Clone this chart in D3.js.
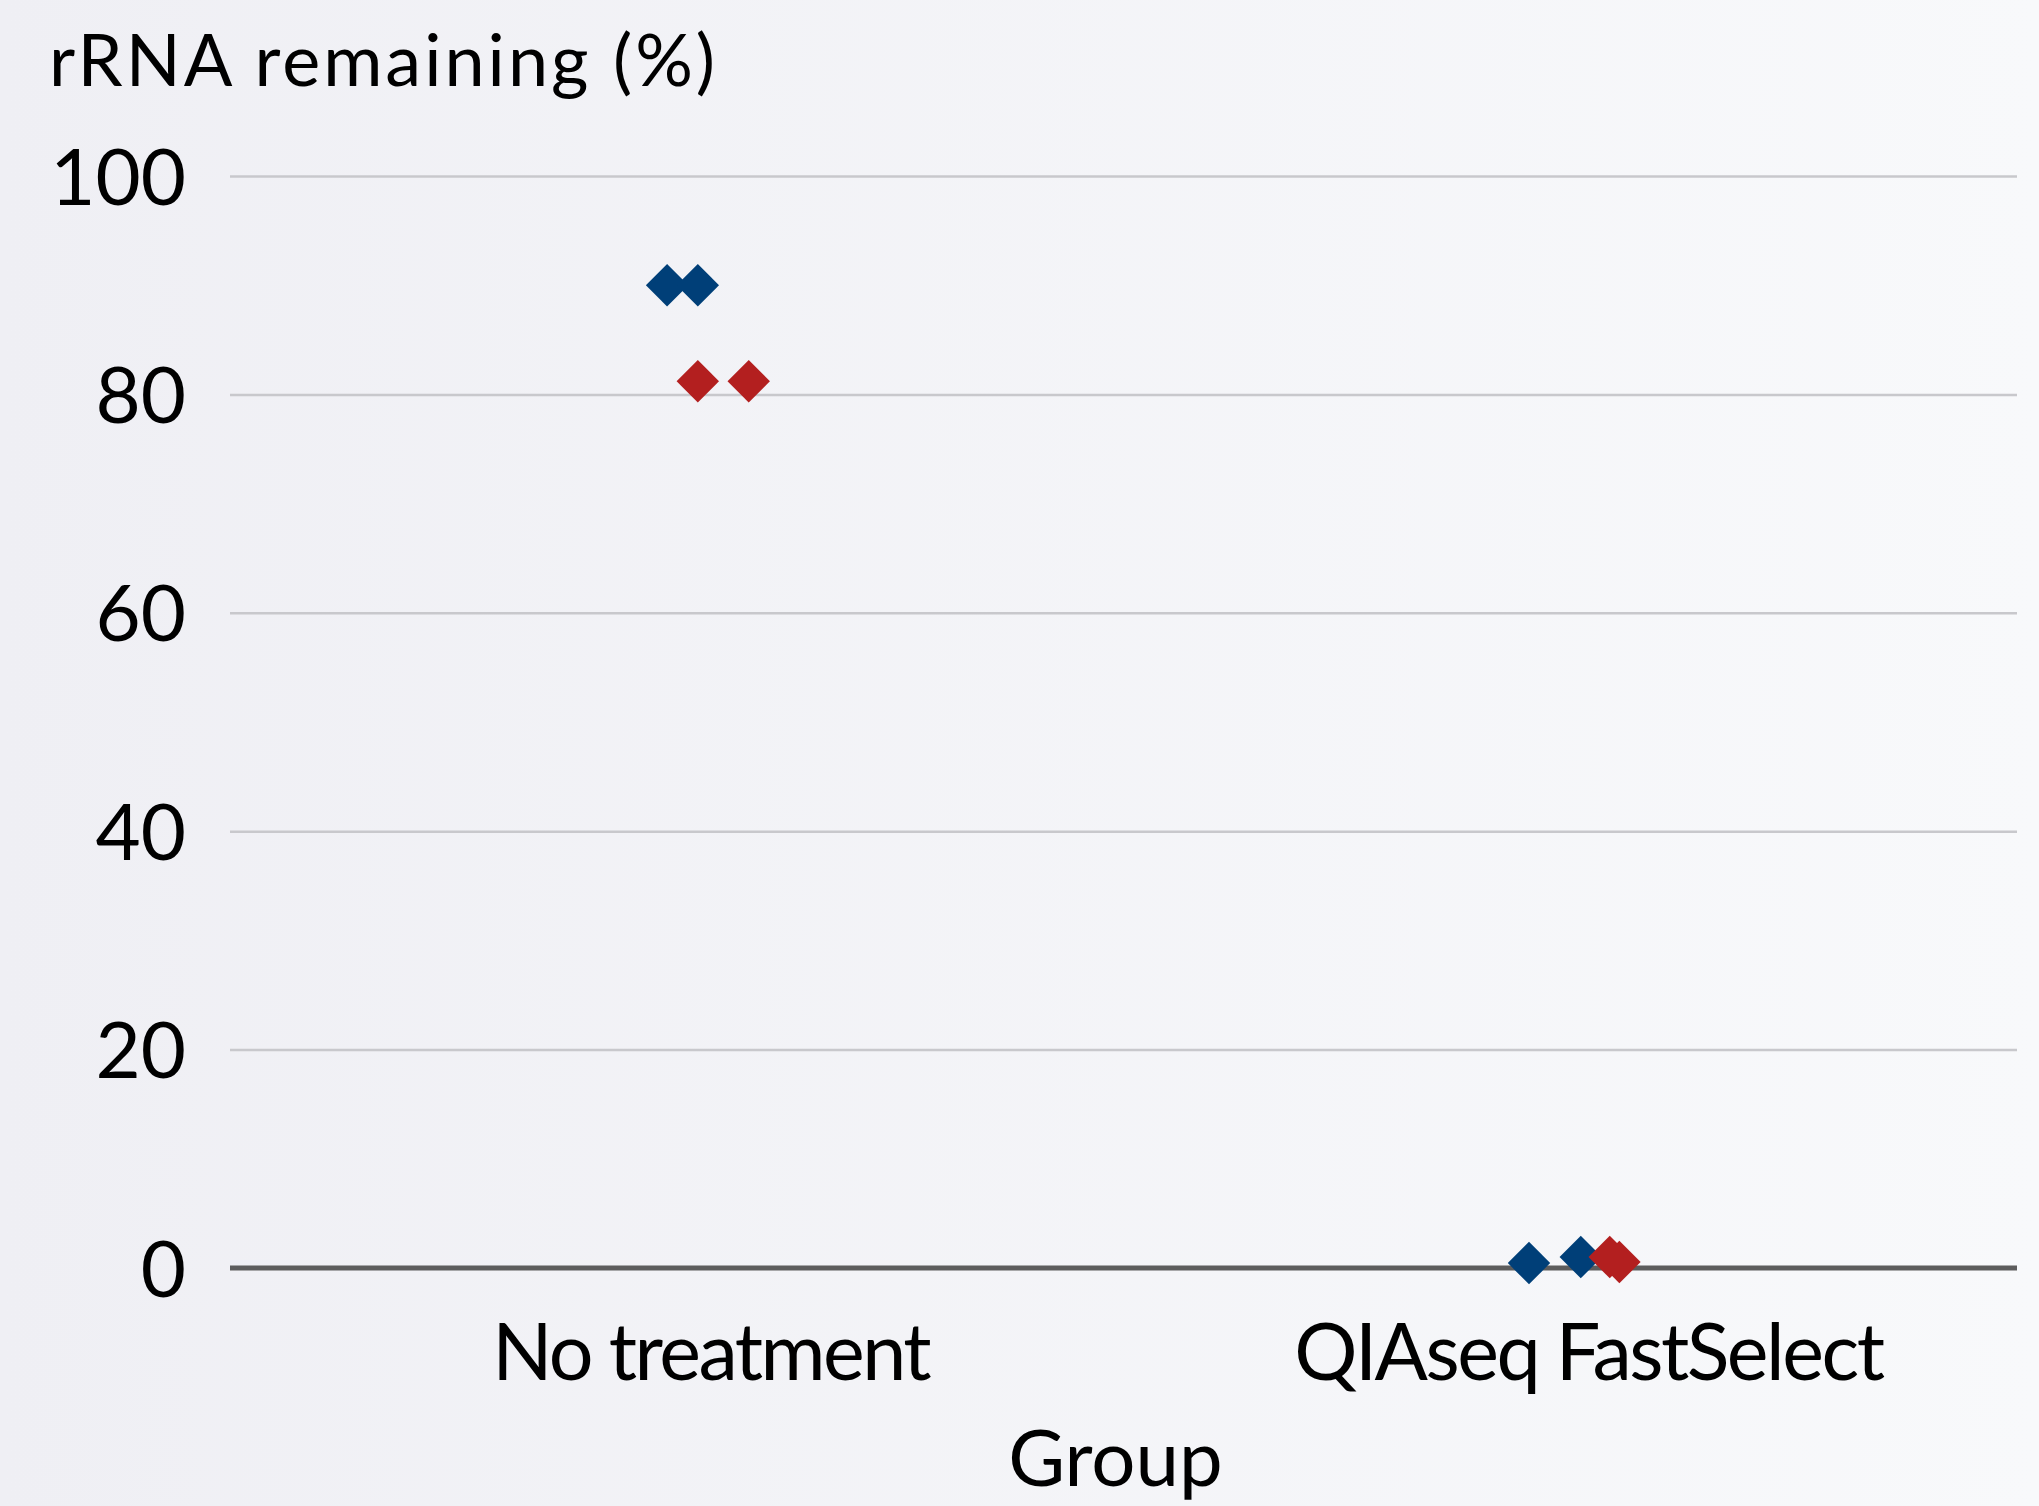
<!DOCTYPE html>
<html>
<head>
<meta charset="utf-8">
<script src="https://cdn.jsdelivr.net/npm/d3@7"></script>
<style>
  html, body { margin: 0; padding: 0; }
  body { width: 2039px; height: 1506px; overflow: hidden; }
  text { font-family: Lato, "Noto Sans", sans-serif; fill: #000; }
</style>
</head>
<body>
<script>
// DATA

let groups = ["No treatment", "QIAseq FastSelect"];
let yTicks = [0, 20, 40, 60, 80, 100];

// each point: x position in group units (1 = first group, 2 = second), y = % remaining
let blueX = [0.951, 0.986, 1.933, 1.992];
let blueY = [90.0, 90.0, 0.45, 1.0];
let redX = [0.986, 1.044, 2.025, 2.036];
let redY = [81.2, 81.2, 1.0, 0.55];

// VISUALIZATION

let width = 2039;
let height = 1506;
let plotLeft = 230, plotRight = 2017, plotTop = 176, plotBottom = 1268;

let svg = d3.select("body").append("svg")
    .attr("width", width)
    .attr("height", height);

let grad = svg.append("defs").append("linearGradient")
    .attr("id", "bg")
    .attr("x1", "0%").attr("y1", "0%")
    .attr("x2", "100%").attr("y2", "0%");
grad.append("stop").attr("offset", "0%").attr("stop-color", "#efeff4");
grad.append("stop").attr("offset", "100%").attr("stop-color", "#f8f9fb");

svg.append("rect")
    .attr("width", width)
    .attr("height", height)
    .attr("fill", "url(#bg)");

let x_scale = d3.scaleLinear()
    .domain([0.453, 2.489])
    .range([plotLeft, plotRight]);

let y_scale = d3.scaleLinear()
    .domain([0, 100])
    .range([plotBottom, plotTop]);

// gridlines + y labels
let y_axis = d3.axisLeft(y_scale)
    .tickValues(yTicks)
    .tickSize(-(plotRight - plotLeft))
    .tickPadding(44)
    .tickFormat(d3.format("d"));

let gy = svg.append("g")
    .attr("class", "y axis")
    .attr("transform", "translate(" + plotLeft + ",0)")
    .call(y_axis);
gy.select(".domain").remove();
gy.selectAll(".tick line")
    .attr("stroke", "#c8c8cc")
    .attr("stroke-width", 2.5);
gy.selectAll(".tick text")
    .style("font-size", "78px")
    .attr("dy", "0.36em");

// baseline
svg.append("line")
    .attr("x1", plotLeft).attr("x2", plotRight)
    .attr("y1", y_scale(0)).attr("y2", y_scale(0))
    .attr("stroke", "#5d5d5d")
    .attr("stroke-width", 5);

// x labels
let x_axis = d3.axisBottom(x_scale)
    .tickValues([1, 2])
    .tickSize(0)
    .tickPadding(56)
    .tickFormat(d => groups[d - 1]);

let gx = svg.append("g")
    .attr("class", "x axis")
    .attr("transform", "translate(0," + plotBottom + ")")
    .call(x_axis);
gx.select(".domain").remove();
gx.selectAll(".tick text")
    .style("font-size", "79px")
    .style("letter-spacing", "-2.5px")
    .attr("dy", "0.71em");

// points
let diamond = d3.symbol().type(d3.symbolSquare).size(900);

function drawPoints(xs, ys, color) {
    svg.append("g")
        .selectAll("path")
        .data(xs.map((d, i) => [d, ys[i]]))
        .join("path")
        .attr("d", diamond)
        .attr("transform", d => "translate(" + x_scale(d[0]) + "," + y_scale(d[1]) + ") rotate(45)")
        .attr("fill", color);
}

drawPoints(blueX, blueY, "#003f78");
drawPoints(redX, redY, "#b31f1f");

// titles
svg.append("text")
    .attr("x", 49)
    .attr("y", 86)
    .style("font-size", "72px")
    .style("letter-spacing", "3px")
    .text("rRNA remaining (%)");

svg.append("text")
    .attr("x", (plotLeft + plotRight) / 2 - 8)
    .attr("y", 1486)
    .attr("text-anchor", "middle")
    .style("font-size", "78px")
    .text("Group");
</script>
</body>
</html>
